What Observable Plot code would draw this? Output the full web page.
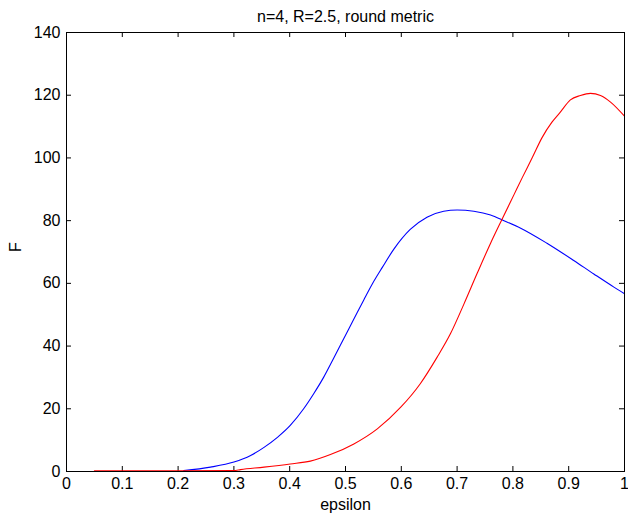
<!DOCTYPE html>
<html>
<head>
<meta charset="utf-8">
<script src="https://cdn.jsdelivr.net/npm/d3@7"></script>
<script src="https://cdn.jsdelivr.net/npm/@observablehq/plot@0.6"></script>
<style>
html,body{margin:0;padding:0;background:#fff;}
</style>
</head>
<body>
<div id="chart"></div>
<script>
const title = "n=4, R=2.5, round metric";
const xLabel = "epsilon";
const yLabel = "F";
const xTicks = [0,0.1,0.2,0.3,0.4,0.5,0.6,0.7,0.8,0.9,1];
const xTickLabels = ["0","0.1","0.2","0.3","0.4","0.5","0.6","0.7","0.8","0.9","1"];
const yTicks = [0,20,40,60,80,100,120,140];

const blueX = [0.21,0.258,0.30,0.33,0.354,0.378,0.401,0.425,0.443,0.461,0.479,0.497,0.515,0.533,0.548,0.566,0.587,0.616,0.646,0.676,0.70,0.73,0.76,0.784,0.814,0.861,0.909,0.945,0.981,1.0];
const blueY = [0.3,1.4,3.0,5.1,7.7,10.9,14.7,20.0,24.8,30.1,36.2,42.4,48.6,54.8,59.8,65.1,71.0,77.2,81.1,83.0,83.4,83,81.8,80.0,77.6,72.8,67.3,63,58.8,56.7];

const redX = [0.05,0.1,0.2,0.3,0.312,0.354,0.401,0.437,0.473,0.515,0.557,0.599,0.634,0.664,0.688,0.712,0.736,0.760,0.781,0.802,0.817,0.835,0.852,0.870,0.885,0.903,0.921,0.939,0.957,0.975,1.0];
const redY = [0.2,0.2,0.2,0.3,0.6,1.4,2.4,3.3,5.4,8.8,13.6,20.5,28,36.4,43.9,53.3,63.2,72.8,80.6,88.3,93.8,100.2,106.4,111.4,114.6,118.5,119.9,120.6,119.9,117.8,113.3];

const blue = blueX.map((x,i)=>({x, y: blueY[i]}));
const red = redX.map((x,i)=>({x, y: redY[i]}));

const W = 628, H = 515;
const mL = 66, mR = 4, mT = 32, mB = 44;
const fw = W - mL - mR, fh = H - mT - mB;
const tk = 5;
const font = "'Liberation Sans', Arial, sans-serif";
const fs = 16;

const chart = Plot.plot({
  width: W, height: H,
  marginLeft: mL, marginRight: mR, marginTop: mT, marginBottom: mB,
  style: {fontFamily: font, fontSize: fs + "px", color: "#000", background: "#fff"},
  x: {domain: [0,1]},
  y: {domain: [0,140]},
  marks: [
    Plot.axisX(xTicks, {tickSize: 0, tickPadding: 6, tickFormat: (d,i)=>xTickLabels[i], label: null, fontSize: fs}),
    Plot.axisY(yTicks, {tickSize: 0, tickPadding: 6, label: null, fontSize: fs}),
    Plot.tickX(xTicks.slice(1,-1), {x: d=>d, insetTop: fh - tk, stroke: "black"}),
    Plot.tickX(xTicks.slice(1,-1), {x: d=>d, insetBottom: fh - tk, stroke: "black"}),
    Plot.tickY(yTicks.slice(1,-1), {y: d=>d, insetRight: fw - tk, stroke: "black"}),
    Plot.tickY(yTicks.slice(1,-1), {y: d=>d, insetLeft: fw - tk, stroke: "black"}),
    Plot.line(blue, {x: "x", y: "y", stroke: "#0000ff", strokeWidth: 1.1, curve: "monotone-x"}),
    Plot.line(red, {x: "x", y: "y", stroke: "#ff0000", strokeWidth: 1.1, curve: "monotone-x"}),
    Plot.frame({stroke: "black"}),
    Plot.text([title], {text: d=>d, frameAnchor: "top", lineAnchor: "top", dy: -22, fontSize: fs}),
    Plot.text([xLabel], {text: d=>d, frameAnchor: "bottom", dy: 38, fontSize: fs}),
    Plot.text([yLabel], {text: d=>d, frameAnchor: "left", dx: -51, rotate: -90, fontSize: fs})
  ]
});
document.getElementById("chart").appendChild(chart);
</script>
</body>
</html>
